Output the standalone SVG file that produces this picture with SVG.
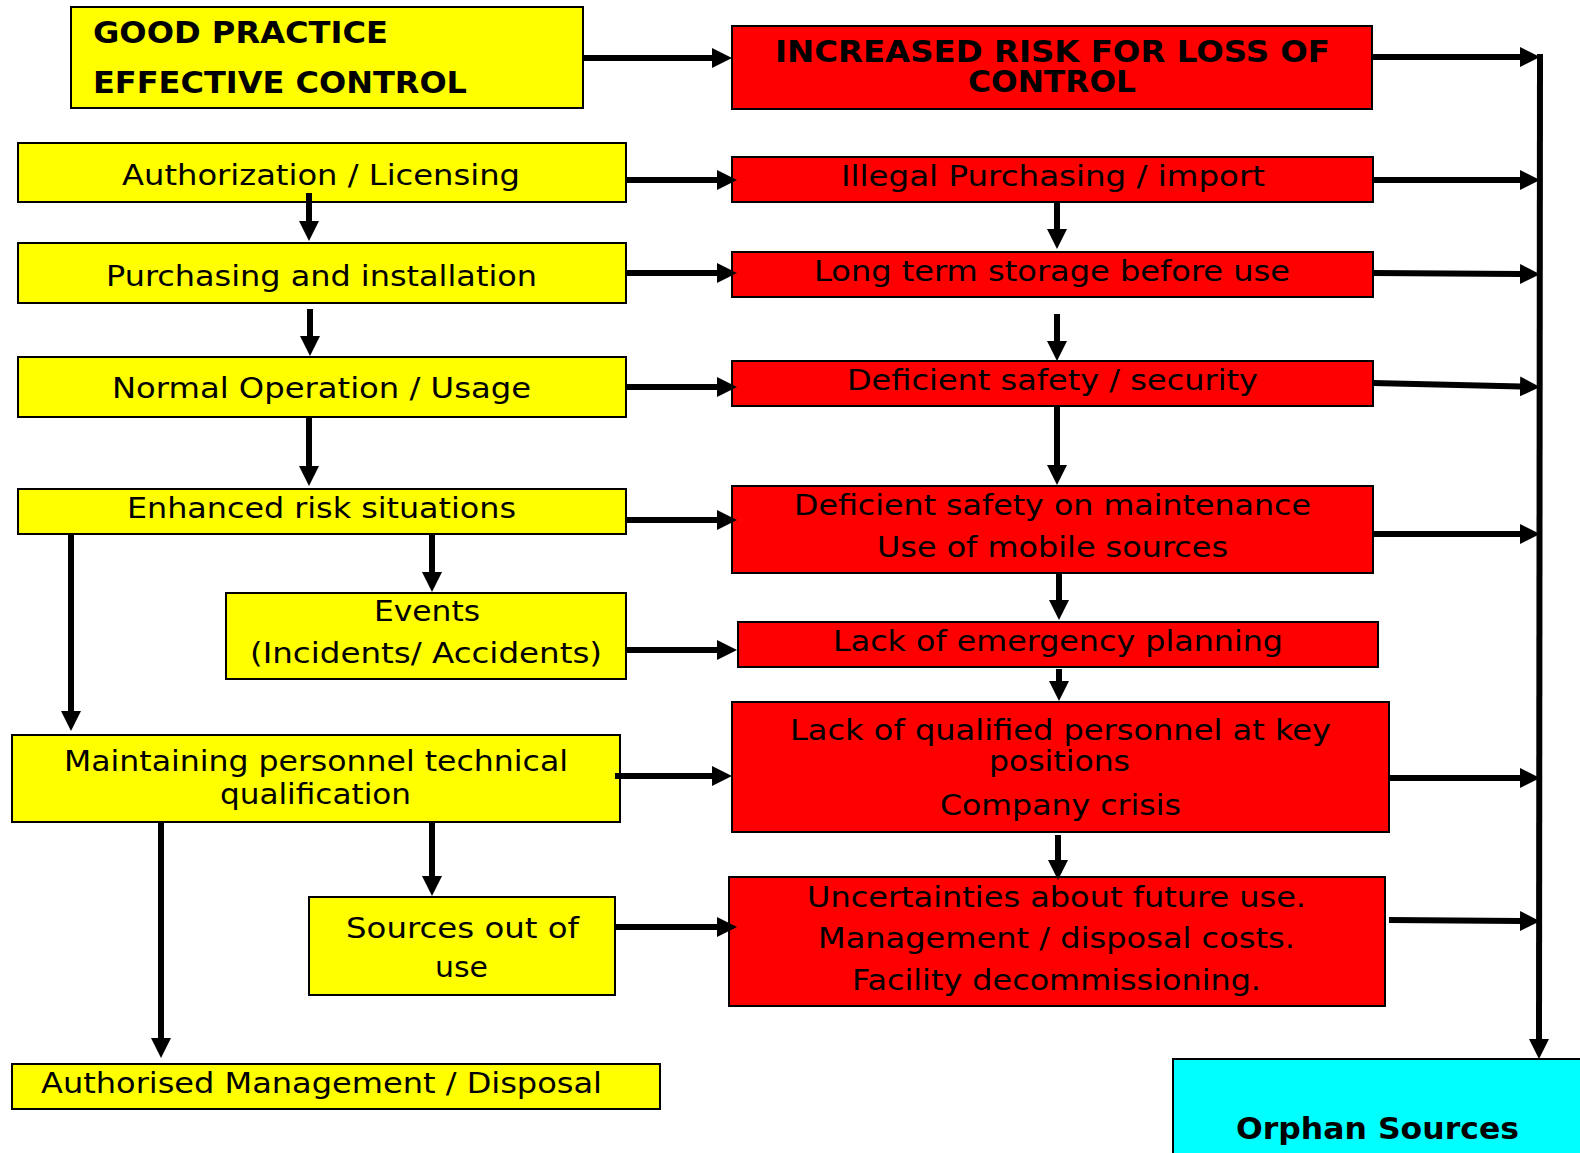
<svg xmlns="http://www.w3.org/2000/svg" width="1580" height="1153" viewBox="0 0 1580 1153">
<style>
.y{fill:#FFFF00;stroke:#000;stroke-width:2}
.r{fill:#FF0000;stroke:#000;stroke-width:2}
.c{fill:#00FFFF;stroke:#000;stroke-width:2}
text{font-family:"DejaVu Sans",Verdana,sans-serif;font-size:29px;fill:#000}
.b{font-weight:bold;font-size:31px}
.k path{fill:none;stroke:#000;stroke-width:6;marker-end:url(#ah)}
</style>
<defs>
<marker id="ah" markerUnits="userSpaceOnUse" markerWidth="20" markerHeight="20" viewBox="0 0 20 20" refX="1" refY="10" orient="auto"><path d="M0,0 L20,10 L0,20 z" fill="#000"/></marker>
</defs>
<rect x="0" y="0" width="1580" height="1153" fill="#fff"/>

<g id="good-practice"><rect class="y" x="71" y="7" width="512" height="101"/>
<text class="b" x="93" y="43" textLength="295" lengthAdjust="spacingAndGlyphs">GOOD PRACTICE</text>
<text class="b" x="93" y="93" textLength="374" lengthAdjust="spacingAndGlyphs">EFFECTIVE CONTROL</text></g>

<g id="authorization"><rect class="y" x="18" y="143" width="608" height="59"/>
<text x="122" y="185" textLength="398" lengthAdjust="spacingAndGlyphs">Authorization / Licensing</text></g>

<g id="purchasing"><rect class="y" x="18" y="243" width="608" height="60"/>
<text x="106" y="286" textLength="431" lengthAdjust="spacingAndGlyphs">Purchasing and installation</text></g>

<g id="normal-operation"><rect class="y" x="18" y="357" width="608" height="60"/>
<text x="112" y="398" textLength="419" lengthAdjust="spacingAndGlyphs">Normal Operation / Usage</text></g>

<g id="enhanced-risk"><rect class="y" x="18" y="489" width="608" height="45"/>
<text x="127" y="518" textLength="389" lengthAdjust="spacingAndGlyphs">Enhanced risk situations</text></g>

<g id="events"><rect class="y" x="226" y="593" width="400" height="86"/>
<text x="374" y="621" textLength="106" lengthAdjust="spacingAndGlyphs">Events</text>
<text x="250" y="663" textLength="352" lengthAdjust="spacingAndGlyphs">(Incidents/ Accidents)</text></g>

<g id="maintaining"><rect class="y" x="12" y="735" width="608" height="87"/>
<text x="64" y="771" textLength="504" lengthAdjust="spacingAndGlyphs">Maintaining personnel technical</text>
<text x="220" y="804" textLength="191" lengthAdjust="spacingAndGlyphs">qualification</text></g>

<g id="sources-out"><rect class="y" x="309" y="897" width="306" height="98"/>
<text x="346" y="938" textLength="233" lengthAdjust="spacingAndGlyphs">Sources out of</text>
<text x="435" y="977" textLength="53" lengthAdjust="spacingAndGlyphs">use</text></g>

<g id="authorised-management"><rect class="y" x="12" y="1064" width="648" height="45"/>
<text x="41" y="1093" textLength="561" lengthAdjust="spacingAndGlyphs">Authorised Management / Disposal</text></g>

<g id="increased-risk"><rect class="r" x="732" y="26" width="640" height="83"/>
<text class="b" x="775" y="62" textLength="555" lengthAdjust="spacingAndGlyphs">INCREASED RISK FOR LOSS OF</text>
<text class="b" x="968" y="92" textLength="168" lengthAdjust="spacingAndGlyphs">CONTROL</text></g>

<g id="illegal"><rect class="r" x="732" y="157" width="641" height="45"/>
<text x="841" y="186" textLength="424" lengthAdjust="spacingAndGlyphs">Illegal Purchasing / import</text></g>

<g id="long-term"><rect class="r" x="732" y="252" width="641" height="45"/>
<text x="814" y="281" textLength="476" lengthAdjust="spacingAndGlyphs">Long term storage before use</text></g>

<g id="deficient-security"><rect class="r" x="732" y="361" width="641" height="45"/>
<text x="847" y="390" textLength="411" lengthAdjust="spacingAndGlyphs">Deficient safety / security</text></g>

<g id="deficient-maintenance"><rect class="r" x="732" y="486" width="641" height="87"/>
<text x="794" y="515" textLength="517" lengthAdjust="spacingAndGlyphs">Deficient safety on maintenance</text>
<text x="877" y="557" textLength="351" lengthAdjust="spacingAndGlyphs">Use of mobile sources</text></g>

<g id="lack-emergency"><rect class="r" x="738" y="622" width="640" height="45"/>
<text x="833" y="651" textLength="450" lengthAdjust="spacingAndGlyphs">Lack of emergency planning</text></g>

<g id="lack-qualified"><rect class="r" x="732" y="702" width="657" height="130"/>
<text x="790" y="740" textLength="541" lengthAdjust="spacingAndGlyphs">Lack of qualified personnel at key</text>
<text x="989" y="771" textLength="141" lengthAdjust="spacingAndGlyphs">positions</text>
<text x="940" y="815" textLength="241" lengthAdjust="spacingAndGlyphs">Company crisis</text></g>

<g id="uncertainties"><rect class="r" x="729" y="877" width="656" height="129"/>
<text x="807" y="907" textLength="499" lengthAdjust="spacingAndGlyphs">Uncertainties about future use.</text>
<text x="818" y="948" textLength="477" lengthAdjust="spacingAndGlyphs">Management / disposal costs.</text>
<text x="852" y="990" textLength="409" lengthAdjust="spacingAndGlyphs">Facility decommissioning.</text></g>

<g id="orphan-sources"><rect class="c" x="1173" y="1059" width="420" height="110"/>
<text class="b" x="1236" y="1139" textLength="283" lengthAdjust="spacingAndGlyphs">Orphan Sources</text></g>

<g id="connectors" class="k">
<path d="M583,58 H713"/>
<path d="M626,180 H718"/>
<path d="M626,273 H718"/>
<path d="M626,387 H718"/>
<path d="M626,520 H718"/>
<path d="M626,650 H718"/>
<path d="M615,776 H713"/>
<path d="M615,927 H718"/>
<path d="M1372,57 H1521"/>
<path d="M1373,180 H1521"/>
<path d="M1373,273 L1521,274"/>
<path d="M1373,383 L1521,386.5"/>
<path d="M1373,534 H1521"/>
<path d="M1389,778 H1521"/>
<path d="M1389,920 L1521,921"/>
<path d="M1540,54 L1539,1040"/>
<path d="M309,193 V222"/>
<path d="M310,309 V337"/>
<path d="M309,417 V467"/>
<path d="M432,534 V573"/>
<path d="M71,534 V712"/>
<path d="M432,822 V877"/>
<path d="M161,822 V1039"/>
<path d="M1057,202 V230"/>
<path d="M1057,314 V342"/>
<path d="M1057,406 V466"/>
<path d="M1059,573 V601"/>
<path d="M1059,669 V682"/>
<path d="M1058,835 V861"/>
</g>
</svg>
